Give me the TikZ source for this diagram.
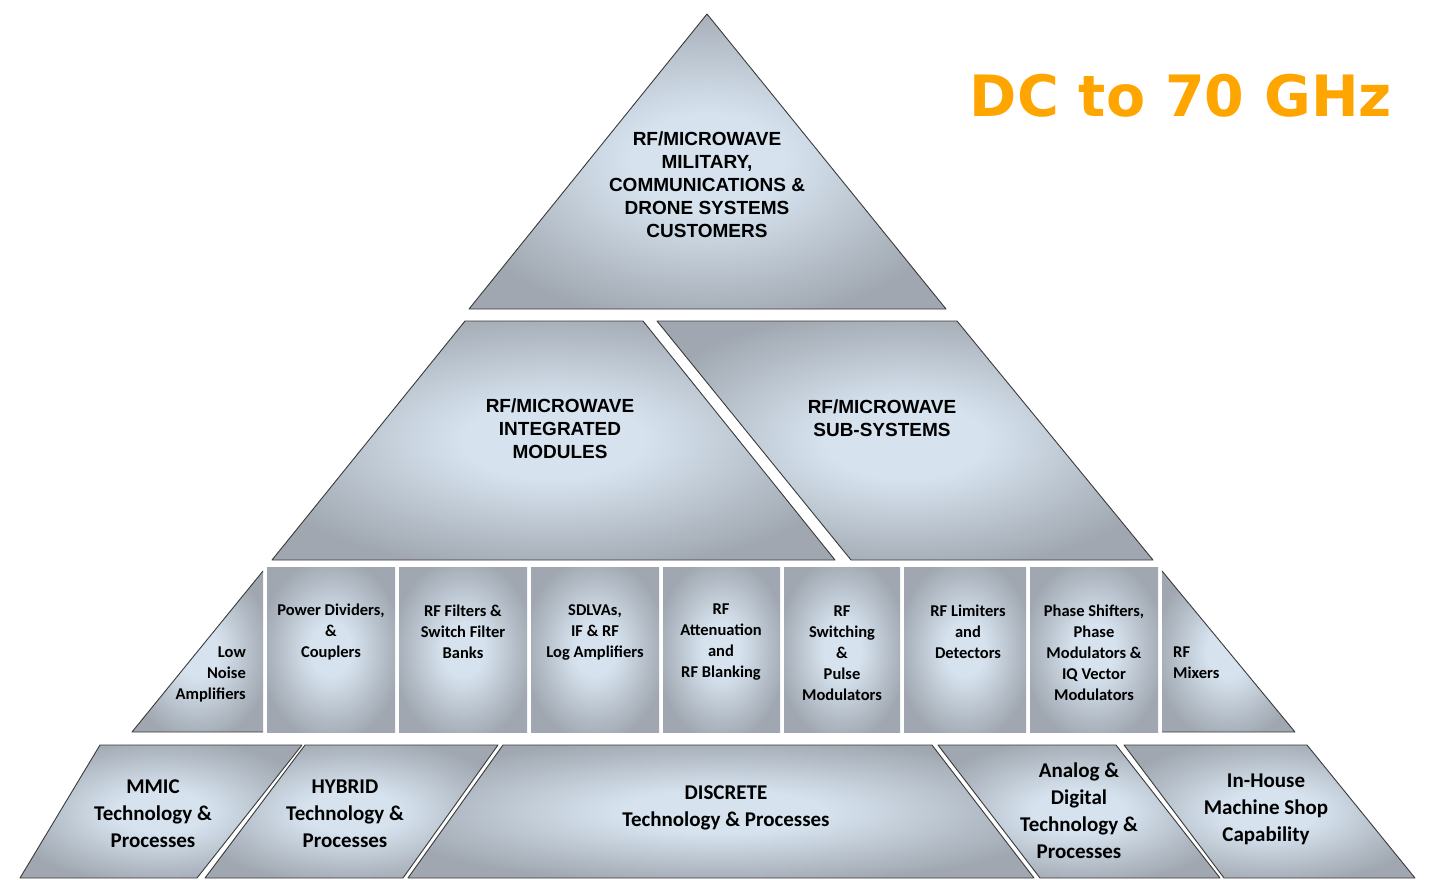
\documentclass[tikz,border=0pt]{standalone}
\usepackage{fontspec}
\setmainfont{Liberation Sans}
\newfontfamily\cellfont{Carlito}
\newfontfamily\bandfont{DejaVu Sans}
\usetikzlibrary{positioning}
\definecolor{edgegray}{HTML}{A0A7B0}
\definecolor{midblue}{HTML}{D6E3EF}
\definecolor{rimline}{HTML}{3A3A3A}
\definecolor{bandorange}{HTML}{FFA500}
\pgfdeclareradialshading{glow}{\pgfpoint{0bp}{0bp}}{color(0bp)=(midblue); color(8bp)=(midblue); color(28bp)=(edgegray); color(50bp)=(edgegray)}

\begin{document}
\begin{tikzpicture}[x=1pt, y=-1pt,
  Layer/.style={shading=glow, draw=rimline, line width=0.9pt, line join=round},
  Cell/.style={shading=glow},
  Rim/.style={draw=rimline, line width=0.9pt, line join=round},
  Big/.style={font=\bfseries\fontsize{19}{23}\selectfont, align=center, inner sep=0pt},
  Small/.style={font=\cellfont\bfseries\fontsize{16.5}{21}\selectfont, align=center, inner sep=0pt},
  Base/.style={font=\cellfont\bfseries\fontsize{21}{27}\selectfont, align=center, inner sep=0pt}]
  \useasboundingbox (0,0) rectangle (1437,879);

  % top and middle tiers
  \path[Layer] (707,14) -- (946,309) -- (469,309) -- cycle;
  \path[Layer] (465,321) -- (643,321) -- (835,560) -- (272,560) -- cycle;
  \path[Layer] (657,321) -- (957,321) -- (1153,560) -- (851,560) -- cycle;

  % component row
  \path[Cell] (263,571) -- (263,732) -- (132,732) -- cycle;
  \draw[Rim] (263,571) -- (132,732) -- (263,732);
  \path[Cell] (267,567) rectangle (395,732);
  \path[Cell] (399,567) rectangle (527,732);
  \path[Cell] (531,567) rectangle (659,732);
  \path[Cell] (663,567) rectangle (780,732);
  \path[Cell] (784,567) rectangle (900,732);
  \path[Cell] (904,567) rectangle (1026,732);
  \path[Cell] (1030,567) rectangle (1158,732);
  \path[Cell] (1162,571) -- (1162,732) -- (1295,732) -- cycle;
  \draw[Rim] (1162,571) -- (1295,732) -- (1162,732);

  % base row
  \path[Layer] (100,745) -- (302,745) -- (197,878) -- (20,878) -- cycle;
  \path[Layer] (305,745) -- (498,745) -- (403,878) -- (205,878) -- cycle;
  \path[Layer] (503,745) -- (932,745) -- (1034,878) -- (408,878) -- cycle;
  \path[Layer] (938,745) -- (1116,745) -- (1220,878) -- (1040,878) -- cycle;
  \path[Layer] (1124,745) -- (1307,745) -- (1415,878) -- (1224,878) -- cycle;

  % labels
  \node[Big] (apex) at (707,185) {RF/MICROWAVE\\MILITARY,\\COMMUNICATIONS \&\\DRONE SYSTEMS\\CUSTOMERS};
  \node[Big] (modules) at (560,429) {RF/MICROWAVE\\INTEGRATED\\MODULES};
  \node[Big] (subsys) at (882,418) {RF/MICROWAVE\\SUB-SYSTEMS};

  \node[Small, align=right, anchor=east] (lna) at (246,674) {Low\\Noise\\Amplifiers};
  \node[Small] (divider) at (331,632) {Power Dividers,\\\&\\Couplers};
  \node[Small] (filters) at (463,632) {RF Filters \&\\Switch Filter\\Banks};
  \node[Small] (sdlva) at (595,632) {SDLVAs,\\IF \& RF\\Log Amplifiers};
  \node[Small] (atten) at (721,642) {RF\\Attenuation\\and\\RF Blanking};
  \node[Small] (switching) at (842,653) {RF\\Switching\\\&\\Pulse\\Modulators};
  \node[Small] (limiters) at (968,632) {RF Limiters\\and\\Detectors};
  \node[Small] (phase) at (1094,653) {Phase Shifters,\\Phase\\Modulators \&\\IQ Vector\\Modulators};
  \node[Small, align=left, anchor=west] (mixers) at (1173,663) {RF\\Mixers};

  \node[Base] (mmic) at (153,814) {MMIC\\Technology \&\\Processes};
  \node[Base] (hybrid) at (345,814) {HYBRID\\Technology \&\\Processes};
  \node[Base] (discrete) at (726,808) {DISCRETE\\Technology \& Processes};
  \node[Base] (analog) at (1079,811) {Analog \&\\Digital\\Technology \&\\Processes};
  \node[Base] (machine) at (1266,809) {In-House\\Machine Shop\\Capability};

  \node[font=\bandfont\bfseries\fontsize{57}{60}\selectfont, text=bandorange, inner sep=0pt] (band) at (1181,96) {DC to 70 GHz};
\end{tikzpicture}
\end{document}
